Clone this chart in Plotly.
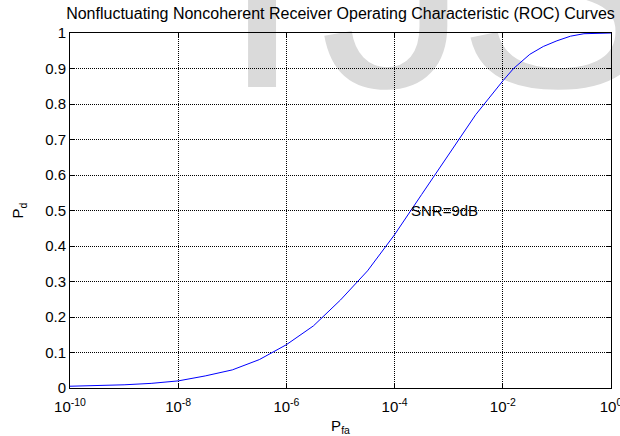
import plotly.graph_objects as go

# Probability of false alarm (x) and probability of detection (y)
pfa = [1e-10, 3.16e-10, 1e-9, 3.16e-9, 1e-8, 3.16e-8, 1e-7, 3.16e-7, 1e-6,
       3.16e-6, 1e-5, 3.16e-5, 1e-4, 3.16e-4, 1e-3, 3.16e-3, 1e-2, 1.58e-2,
       3.16e-2, 5.6e-2, 1e-1, 1.78e-1, 3.16e-1, 1.0]
pd_vals = [0.005, 0.006, 0.009, 0.013, 0.020, 0.034, 0.051, 0.080, 0.122,
           0.175, 0.248, 0.330, 0.432, 0.545, 0.658, 0.770, 0.865, 0.900,
           0.940, 0.962, 0.978, 0.991, 0.998, 1.0]

x_tickvals = [1e-10, 1e-8, 1e-6, 1e-4, 1e-2, 1]
x_ticktext = ["10<sup>-10</sup>", "10<sup>-8</sup>", "10<sup>-6</sup>",
              "10<sup>-4</sup>", "10<sup>-2</sup>", "10<sup>0</sup>"]
y_tickvals = [0, 0.1, 0.2, 0.3, 0.4, 0.5, 0.6, 0.7, 0.8, 0.9, 1]
y_ticktext = ["0", "0.1", "0.2", "0.3", "0.4", "0.5", "0.6", "0.7", "0.8", "0.9", "1"]

title_text = "Nonfluctuating Noncoherent Receiver Operating Characteristic (ROC) Curves"
curve_label = "SNR=9dB"
label_logx = -3.74
label_y = 0.5
# background watermark letters and their horizontal centres (paper fraction)
watermark_letters = ["I", "J", "S"]
watermark_x = [0.355, 0.600, 0.900]

FONT = "Liberation Sans, Arial, Helvetica, sans-serif"

fig = go.Figure()
fig.add_trace(go.Scatter(x=pfa, y=pd_vals, mode="lines",
                         line=dict(color="#0000ff", width=1),
                         showlegend=False, hoverinfo="skip"))

axis_common = dict(
    showline=True, linecolor="black", linewidth=1, mirror="ticks",
    ticks="inside", ticklen=5, tickcolor="black", tickwidth=1,
    showgrid=True, gridcolor="black", gridwidth=1, griddash="1px,1px",
    zeroline=False, ticklabeloverflow="allow", automargin=False,
    tickfont=dict(family=FONT, size=15, color="black"),
)

fig.update_xaxes(type="log", range=[-10, 0], tickvals=x_tickvals,
                 ticktext=x_ticktext, ticklabelstandoff=5,
                 title=dict(text="P<sub>fa</sub>", font=dict(family=FONT, size=15, color="black"),
                            standoff=6),
                 **axis_common)
fig.update_yaxes(range=[0, 1], tickvals=y_tickvals, ticktext=y_ticktext,
                 title=dict(text="P<sub>d</sub>", font=dict(family=FONT, size=15, color="black"),
                            standoff=17),
                 **axis_common)

fig.add_annotation(x=label_logx, y=label_y, xref="x", yref="y", text=curve_label,
                   showarrow=False, xanchor="left", yanchor="middle",
                   font=dict(family=FONT, size=15, color="black"))

for letter, cx in zip(watermark_letters, watermark_x):
    fig.add_shape(type="rect", xref="paper", yref="paper",
                  x0=cx - 0.01, x1=cx + 0.01, y0=1.20, y1=1.24,
                  line=dict(width=0), fillcolor="rgba(0,0,0,0)", layer="below",
                  label=dict(text=letter, textposition="middle center",
                             font=dict(family=FONT, size=300, color="#dadada")))

fig.update_layout(
    width=620, height=436,
    margin=dict(l=70, r=9, t=33, b=48),
    paper_bgcolor="white", plot_bgcolor="rgba(0,0,0,0)",
    title=dict(text=title_text, x=0.5, xanchor="center", xref="paper",
               y=1 - 13 / 436, yanchor="middle",
               font=dict(family=FONT, size=16, color="black")),
    font=dict(family=FONT, size=15, color="black"),
)

fig.write_html("out.html")
